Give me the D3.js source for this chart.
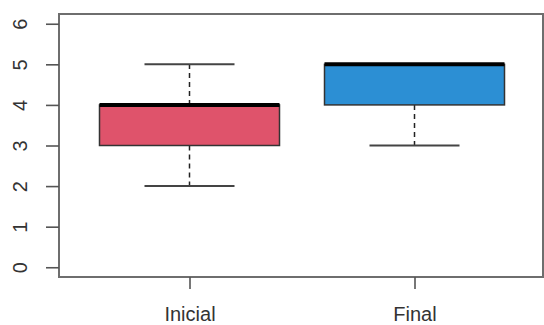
<!DOCTYPE html>
<html>
<head>
<meta charset="utf-8">
<script src="https://cdn.jsdelivr.net/npm/d3@7"></script>
<style>
  html, body { margin: 0; padding: 0; background: #fff; }
  svg { display: block; }
  text { font-family: "Liberation Sans", Arial, sans-serif; fill: #333; }
</style>
</head>
<body>
<svg id="chart" width="544" height="325"></svg>
<script>
// Five-number summaries per group
const groups = ["Inicial", "Final"];
const mins = [2, 3];
const q1s = [3, 4];
const medians = [4, 5];
const q3s = [4, 5];
const maxs = [5, 5];
const fills = ["#DF536B", "#2C8FD4"];
const yTicks = [0, 1, 2, 3, 4, 5, 6];

const data = groups.map((g, i) => ({
  name: g, pos: i + 1, min: mins[i], q1: q1s[i], med: medians[i], q3: q3s[i], max: maxs[i], fill: fills[i]
}));

const svg = d3.select("#chart");
const plot = { left: 59, right: 544, top: 14, bottom: 277 };

const x = d3.scaleLinear().domain([0.42, 2.58]).range([plot.left, plot.right + 1]);
const y = d3.scaleLinear().domain([-0.24, 6.24]).range([plot.bottom, plot.top]);

const boxHalf = 0.4;
const capHalf = 0.2;

// Plot frame
svg.append("rect")
  .attr("x", plot.left).attr("y", plot.top)
  .attr("width", plot.right - 1 - plot.left).attr("height", plot.bottom - plot.top)
  .attr("fill", "none").attr("stroke", "#6e6e6e").attr("stroke-width", 2);

// Y axis
const yAxis = svg.append("g")
  .attr("transform", `translate(${plot.left},0)`)
  .call(d3.axisLeft(y).tickValues(yTicks).tickSize(13).tickPadding(0).tickFormat(d3.format("d")));
yAxis.select(".domain").remove();
yAxis.selectAll(".tick line").attr("stroke", "#555").attr("stroke-width", 1.6);
yAxis.selectAll(".tick text")
  .attr("x", null).attr("dy", null)
  .attr("text-anchor", "middle")
  .attr("transform", "translate(-39,0) rotate(-90)")
  .attr("dy", "0.35em")
  .style("font-size", "20px")
  .style("fill", "#333");

// X axis
const xAxis = svg.append("g")
  .attr("transform", `translate(0,${plot.bottom})`)
  .call(d3.axisBottom(x).tickValues(data.map(d => d.pos)).tickSize(12).tickPadding(18)
    .tickFormat((d, i) => groups[i]));
xAxis.select(".domain").remove();
xAxis.selectAll(".tick line").attr("stroke", "#555").attr("stroke-width", 1.6);
xAxis.selectAll(".tick text").style("font-size", "20px").style("fill", "#333");

// Boxes
const box = svg.append("g").selectAll("g").data(data).join("g");

// Whiskers (dashed)
box.filter(d => d.max > d.q3).append("line")
  .attr("x1", d => x(d.pos)).attr("x2", d => x(d.pos))
  .attr("y1", d => y(d.q3)).attr("y2", d => y(d.max))
  .attr("stroke", "#222").attr("stroke-width", 1.5).attr("stroke-dasharray", "5,4");
box.filter(d => d.min < d.q1).append("line")
  .attr("x1", d => x(d.pos)).attr("x2", d => x(d.pos))
  .attr("y1", d => y(d.q1)).attr("y2", d => y(d.min))
  .attr("stroke", "#222").attr("stroke-width", 1.5).attr("stroke-dasharray", "5,4");

// Whisker caps
box.filter(d => d.max > d.q3).append("line")
  .attr("x1", d => x(d.pos - capHalf)).attr("x2", d => x(d.pos + capHalf))
  .attr("y1", d => y(d.max)).attr("y2", d => y(d.max))
  .attr("stroke", "#444").attr("stroke-width", 2);
box.filter(d => d.min < d.q1).append("line")
  .attr("x1", d => x(d.pos - capHalf)).attr("x2", d => x(d.pos + capHalf))
  .attr("y1", d => y(d.min)).attr("y2", d => y(d.min))
  .attr("stroke", "#444").attr("stroke-width", 2);

// Interquartile box
box.append("rect")
  .attr("x", d => x(d.pos - boxHalf))
  .attr("width", d => x(d.pos + boxHalf) - x(d.pos - boxHalf))
  .attr("y", d => y(d.q3))
  .attr("height", d => y(d.q1) - y(d.q3))
  .attr("fill", d => d.fill)
  .attr("stroke", "#333").attr("stroke-width", 1.5);

// Median
box.append("line")
  .attr("x1", d => x(d.pos - boxHalf)).attr("x2", d => x(d.pos + boxHalf))
  .attr("y1", d => y(d.med)).attr("y2", d => y(d.med))
  .attr("stroke", "#000").attr("stroke-width", 4);
</script>
</body>
</html>
